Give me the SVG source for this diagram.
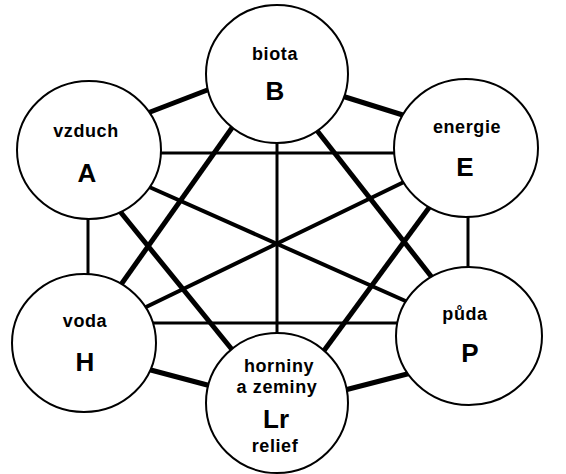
<svg xmlns="http://www.w3.org/2000/svg" width="566" height="474" viewBox="0 0 566 474">
<style>
.bg{fill:#fff}
.c{fill:#fff;stroke:#000;stroke-width:2}
.thin{stroke:#000;stroke-width:3;fill:none}
.mid{stroke:#000;stroke-width:4;fill:none}
.thick{stroke:#000;stroke-width:5;fill:none}
text{font-family:"Liberation Sans",Arial,sans-serif;font-weight:bold;fill:#000;text-anchor:middle}
.s{font-size:18px;letter-spacing:0.6px}
.b{font-size:26px}
</style>
<rect class="bg" x="0" y="0" width="566" height="474"/>
<g id="connectors">
<line class="thick" x1="145" y1="114" x2="210" y2="89"/>
<line class="thick" x1="342" y1="96" x2="406" y2="116"/>
<line class="thin" x1="158" y1="153" x2="398" y2="153"/>
<line class="thin" x1="88" y1="215" x2="88" y2="278"/>
<line class="thin" x1="468" y1="213" x2="468" y2="271"/>
<line class="thin" x1="152" y1="323" x2="400" y2="323"/>
<line class="thick" x1="147" y1="369" x2="211" y2="386"/>
<line class="thick" x1="345" y1="390" x2="411" y2="373"/>
<line class="thin" x1="277" y1="140" x2="277" y2="338"/>
<line class="thick" x1="234" y1="125" x2="120" y2="286"/>
<line class="thick" x1="315" y1="128" x2="434" y2="280"/>
<line class="thick" x1="118" y1="209" x2="234" y2="352"/>
<line class="thick" x1="431" y1="205" x2="323" y2="352"/>
<line class="mid" x1="147" y1="186" x2="410" y2="303"/>
<line class="mid" x1="406" y1="181" x2="144" y2="308"/>
</g>
<g id="B">
<ellipse class="c" cx="277" cy="74" rx="71" ry="69"/>
<text class="s" x="275" y="60">biota</text>
<text class="b" x="275" y="100">B</text>
</g>
<g id="A">
<ellipse class="c" cx="89" cy="150" rx="72" ry="69"/>
<text class="s" x="86" y="137">vzduch</text>
<text class="b" x="87" y="182">A</text>
</g>
<g id="E">
<ellipse class="c" cx="466" cy="148" rx="72" ry="69"/>
<text class="s" x="467" y="133">energie</text>
<text class="b" x="465" y="176">E</text>
</g>
<g id="H">
<ellipse class="c" cx="84" cy="343" rx="72" ry="69"/>
<text class="s" x="85" y="327">voda</text>
<text class="b" x="85" y="371">H</text>
</g>
<g id="P">
<ellipse class="c" cx="469" cy="336" rx="73" ry="69"/>
<text class="s" x="465" y="320">půda</text>
<text class="b" x="470" y="362">P</text>
</g>
<g id="Lr">
<ellipse class="c" cx="277" cy="403" rx="71" ry="70"/>
<text class="s" x="279" y="372">horniny</text>
<text class="s" x="277" y="393">a zeminy</text>
<text class="b" x="276" y="428">Lr</text>
<text class="s" x="275" y="452">relief</text>
</g>
</svg>
